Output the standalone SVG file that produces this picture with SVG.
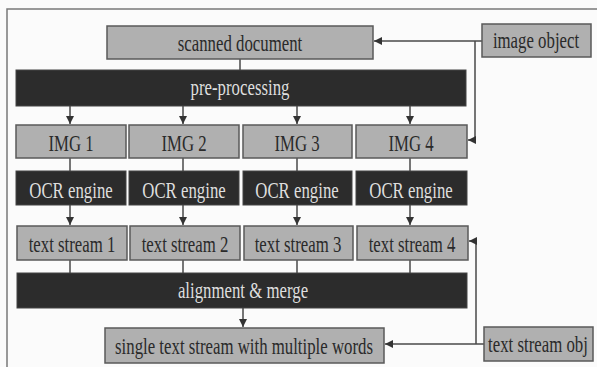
<svg xmlns="http://www.w3.org/2000/svg" width="597" height="367" viewBox="0 0 597 367">
<defs>
<style>
.g{fill:#b0b0b0;stroke:#5a5a5a;stroke-width:1.5}
.d{fill:#2c2c2c;stroke:#444;stroke-width:1}
.t{font-family:"Liberation Serif","Times New Roman",serif;font-size:24px;text-anchor:middle;fill:#2a2a2a}
.w{font-family:"Liberation Serif","Times New Roman",serif;font-size:24px;text-anchor:middle;fill:#dedede}
.c{fill:none;stroke:#4a4a4a;stroke-width:1.5}
</style>
<marker id="ah" viewBox="0 0 10 10" refX="10" refY="5" markerWidth="8" markerHeight="8" markerUnits="userSpaceOnUse" orient="auto">
<path d="M0,0 L10,5 L0,10 z" fill="#333"/>
</marker>
</defs>
<rect width="597" height="367" fill="#fbfbfb"/>
<g id="frame"><path d="M7,367 V9 H597" fill="none" stroke="#7a7a7a" stroke-width="1.5"/></g>
<g id="connectors">
<line class="c" x1="240" y1="59" x2="240" y2="70"/>
<line class="c" x1="70" y1="106" x2="70" y2="124" marker-end="url(#ah)"/>
<line class="c" x1="183" y1="106" x2="183" y2="124" marker-end="url(#ah)"/>
<line class="c" x1="297" y1="106" x2="297" y2="124" marker-end="url(#ah)"/>
<line class="c" x1="410" y1="106" x2="410" y2="124" marker-end="url(#ah)"/>
<line class="c" x1="70" y1="158" x2="70" y2="171"/>
<line class="c" x1="183" y1="158" x2="183" y2="171"/>
<line class="c" x1="297" y1="158" x2="297" y2="171"/>
<line class="c" x1="410" y1="158" x2="410" y2="171"/>
<line class="c" x1="70" y1="205" x2="70" y2="225" marker-end="url(#ah)"/>
<line class="c" x1="183" y1="205" x2="183" y2="225" marker-end="url(#ah)"/>
<line class="c" x1="297" y1="205" x2="297" y2="225" marker-end="url(#ah)"/>
<line class="c" x1="410" y1="205" x2="410" y2="225" marker-end="url(#ah)"/>
<line class="c" x1="70" y1="260" x2="70" y2="273"/>
<line class="c" x1="183" y1="260" x2="183" y2="273"/>
<line class="c" x1="297" y1="260" x2="297" y2="273"/>
<line class="c" x1="410" y1="260" x2="410" y2="273"/>
<line class="c" x1="243" y1="308" x2="243" y2="327" marker-end="url(#ah)"/>
<line class="c" x1="482" y1="41" x2="374" y2="41" marker-end="url(#ah)"/>
<path class="c" d="M475,41 V140 H468" marker-end="url(#ah)"/>
<line class="c" x1="484" y1="344" x2="385" y2="344" marker-end="url(#ah)"/>
<path class="c" d="M476,344 V241 H469" marker-end="url(#ah)"/>
</g>
<g id="scanned"><rect class="g" x="107" y="26" width="266" height="33"/><text class="t" transform="translate(240,51) scale(0.7,1)">scanned document</text></g>
<g id="imageobj"><rect class="g" x="482" y="24" width="109" height="33"/><text class="t" transform="translate(536,48) scale(0.7,1)">image object</text></g>
<g id="preproc"><rect class="d" x="16" y="70" width="450" height="36"/><text class="w" transform="translate(240,95) scale(0.7,1)">pre-processing</text></g>
<g id="img1"><rect class="g" x="16" y="125" width="110" height="33"/><text class="t" transform="translate(71,151) scale(0.7,1)">IMG 1</text></g>
<g id="img2"><rect class="g" x="129" y="125" width="110" height="33"/><text class="t" transform="translate(184,151) scale(0.7,1)">IMG 2</text></g>
<g id="img3"><rect class="g" x="243" y="125" width="109" height="33"/><text class="t" transform="translate(297,151) scale(0.7,1)">IMG 3</text></g>
<g id="img4"><rect class="g" x="356" y="125" width="111" height="33"/><text class="t" transform="translate(411,151) scale(0.7,1)">IMG 4</text></g>
<g id="ocr1"><rect class="d" x="16" y="171" width="110" height="34"/><text class="w" transform="translate(71,198) scale(0.7,1)">OCR engine</text></g>
<g id="ocr2"><rect class="d" x="129" y="171" width="110" height="34"/><text class="w" transform="translate(184,198) scale(0.7,1)">OCR engine</text></g>
<g id="ocr3"><rect class="d" x="243" y="171" width="109" height="34"/><text class="w" transform="translate(297,198) scale(0.7,1)">OCR engine</text></g>
<g id="ocr4"><rect class="d" x="356" y="171" width="111" height="34"/><text class="w" transform="translate(411,198) scale(0.7,1)">OCR engine</text></g>
<g id="ts1"><rect class="g" x="17" y="226" width="110" height="34"/><text class="t" transform="translate(72,252) scale(0.7,1)">text stream 1</text></g>
<g id="ts2"><rect class="g" x="130" y="226" width="110" height="34"/><text class="t" transform="translate(185,252) scale(0.7,1)">text stream 2</text></g>
<g id="ts3"><rect class="g" x="244" y="226" width="109" height="34"/><text class="t" transform="translate(298,252) scale(0.7,1)">text stream 3</text></g>
<g id="ts4"><rect class="g" x="357" y="226" width="111" height="34"/><text class="t" transform="translate(412,252) scale(0.7,1)">text stream 4</text></g>
<g id="align"><rect class="d" x="17" y="273" width="450" height="35"/><text class="w" transform="translate(243,298) scale(0.7,1)">alignment &amp; merge</text></g>
<g id="single"><rect class="g" x="105" y="328" width="279" height="35"/><text class="t" transform="translate(244,354) scale(0.7,1)">single text stream with multiple words</text></g>
<g id="tsobj"><rect class="g" x="484" y="327" width="109" height="34"/><text class="t" transform="translate(538,352) scale(0.7,1)">text stream obj</text></g>
</svg>
